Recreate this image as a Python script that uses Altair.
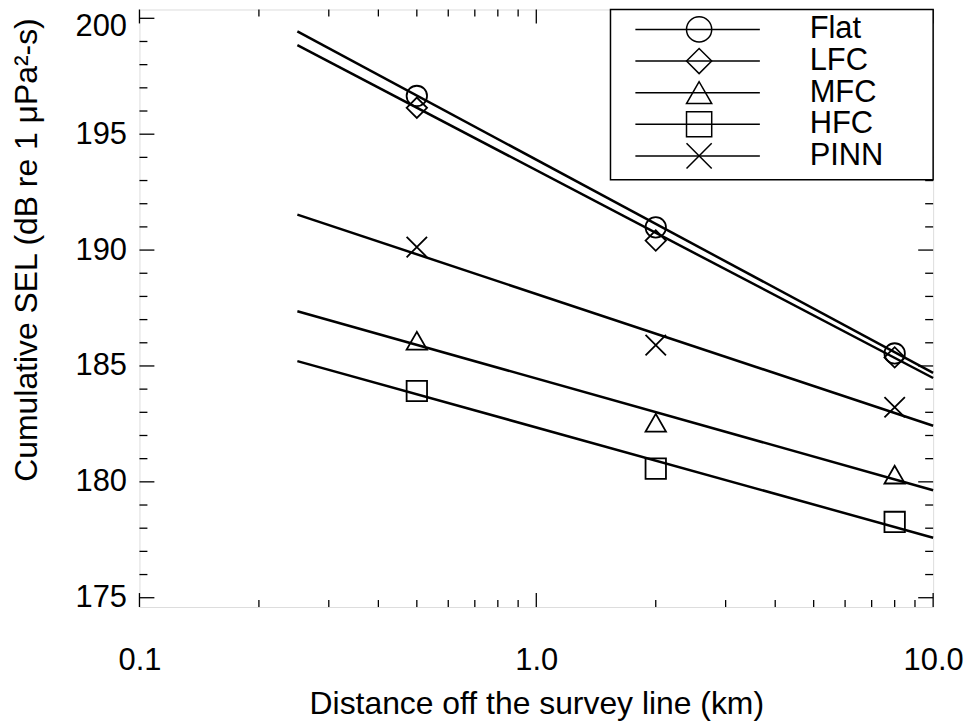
import altair as alt
import pandas as pd

# ---- data ----
dist = [0.5, 2.0, 8.0]
series = ["Flat", "LFC", "MFC", "HFC", "PINN"]
flat = [196.65, 190.98, 185.54]
lfc = [196.14, 190.41, 185.37]
mfc = [186.09, 182.55, 180.31]
hfc = [183.92, 180.57, 178.27]
pinn = [190.13, 185.90, 183.22]

fit_x = [0.25, 10.0]
flat_fit = [199.44, 184.70]
lfc_fit = [198.84, 184.48]
mfc_fit = [187.36, 179.64]
hfc_fit = [185.21, 177.59]
pinn_fit = [191.53, 182.42]

x_major = [0.1, 1.0, 10.0]
x_minor = [0.2, 0.3, 0.4, 0.5, 0.6, 0.7, 0.8, 0.9, 2, 3, 4, 5, 6, 7, 8, 9]
y_major = [175, 180, 185, 190, 195, 200]
y_minor = [176, 177, 178, 179, 181, 182, 183, 184, 186, 187, 188, 189,
           191, 192, 193, 194, 196, 197, 198, 199]

X_PATH = "M-1,-1L1,1M1,-1L-1,1"
shapes = ["circle", "diamond", "triangle-up", "square", X_PATH]

# ---- tables ----
pts_vals = [flat, lfc, mfc, hfc, pinn]
fit_vals = [flat_fit, lfc_fit, mfc_fit, hfc_fit, pinn_fit]
pts = pd.DataFrame([{"d": d, "v": v, "s": s}
                    for s, vals in zip(series, pts_vals) for d, v in zip(dist, vals)])
fits = pd.DataFrame([{"d": d, "v": v, "s": s}
                     for s, vals in zip(series, fit_vals) for d, v in zip(fit_x, vals)])
xmaj = pd.DataFrame({"d": x_major})
xmin = pd.DataFrame({"d": x_minor})
ymaj = pd.DataFrame({"v": y_major})
ymin = pd.DataFrame({"v": y_minor})
one = pd.DataFrame({"a": [0]})

W, H = 797, 600
FONT = "Liberation Sans"

xscale = alt.Scale(type="log", domain=[0.1, 10], nice=False)
yscale = alt.Scale(domain=[174.6, 200.38], nice=False, zero=False)

X = alt.X("d:Q", scale=xscale, axis=alt.Axis(
    values=x_major, format=".1f", ticks=False, domain=False, grid=False,
    labelFont=FONT, labelFontSize=31, labelColor="black", labelPadding=39,
    labelFlush=False, labelOverlap=False,
    title="Distance off the survey line (km)", titleFont=FONT, titleFontSize=32,
    titleFontWeight="normal", titleColor="black", titleBaseline="middle",
    titleY=97))
Y = alt.Y("v:Q", scale=yscale, axis=alt.Axis(
    values=y_major, format="d", ticks=False, domain=False, grid=False,
    labelFont=FONT, labelFontSize=31, labelColor="black", labelPadding=13,
    labelOverlap=False, labelFlush=False,
    labelOffset=alt.condition("datum.value == 200", alt.value(8), alt.value(0)),
    title="Cumulative SEL (dB re 1 \u03bcPa\u00b2-s)", titleFont=FONT,
    titleFontSize=32, titleFontWeight="normal", titleColor="black",
    titleX=-96, titleY=241, titleBaseline="bottom"))

lines = alt.Chart(fits).mark_line(color="black", strokeWidth=2.5).encode(
    x=X, y=Y, detail="s:N")
markers = alt.Chart(pts).mark_point(filled=False, color="black", strokeWidth=1.8,
                                    size=420, opacity=1).encode(
    x=X, y=Y,
    shape=alt.Shape("s:N", scale=alt.Scale(domain=series, range=shapes), legend=None))

tick_style = dict(color="black", strokeWidth=1.3)
layers = [lines, markers]
for df, ln in [(xmaj, 14), (xmin, 7)]:
    layers.append(alt.Chart(df).mark_rule(**tick_style).encode(
        x=X, y=alt.value(H - ln), y2=alt.value(H)))
    layers.append(alt.Chart(df).mark_rule(**tick_style).encode(
        x=X, y=alt.value(0), y2=alt.value(ln)))
for df, ln in [(ymaj, 15), (ymin, 8)]:
    layers.append(alt.Chart(df).mark_rule(**tick_style).encode(
        y=Y, x=alt.value(0), x2=alt.value(ln)))
    layers.append(alt.Chart(df).mark_rule(**tick_style).encode(
        y=Y, x=alt.value(W - ln), x2=alt.value(W)))

# legend box
layers.append(alt.Chart(one).mark_rect(fill="white", stroke="black", strokeWidth=1.5).encode(
    x=alt.value(473), x2=alt.value(W), y=alt.value(0), y2=alt.value(171)))
for i, (name, shp) in enumerate(zip(series, shapes)):
    ry = 20 + i * 31.75
    layers.append(alt.Chart(one).mark_rule(color="black", strokeWidth=1.5).encode(
        x=alt.value(498), x2=alt.value(623), y=alt.value(ry)))
    layers.append(alt.Chart(one).mark_point(shape=shp, filled=False, color="black",
                                            strokeWidth=1.5, size=640, opacity=1).encode(
        x=alt.value(562), y=alt.value(ry)))
    layers.append(alt.Chart(one).mark_text(text=name, font=FONT, fontSize=31, align="left",
                                           baseline="middle", color="black").encode(
        x=alt.value(673), y=alt.value(ry)))

chart = alt.layer(*layers).properties(
    width=W, height=H,
    autosize=alt.AutoSizeParams(type="none"),
    padding={"left": 132, "top": 0, "right": 32, "bottom": 119},
).configure_view(stroke="black", strokeWidth=1.5).configure(background="white")

chart.save("out.html", embed_options={"renderer": "svg", "actions": False})
